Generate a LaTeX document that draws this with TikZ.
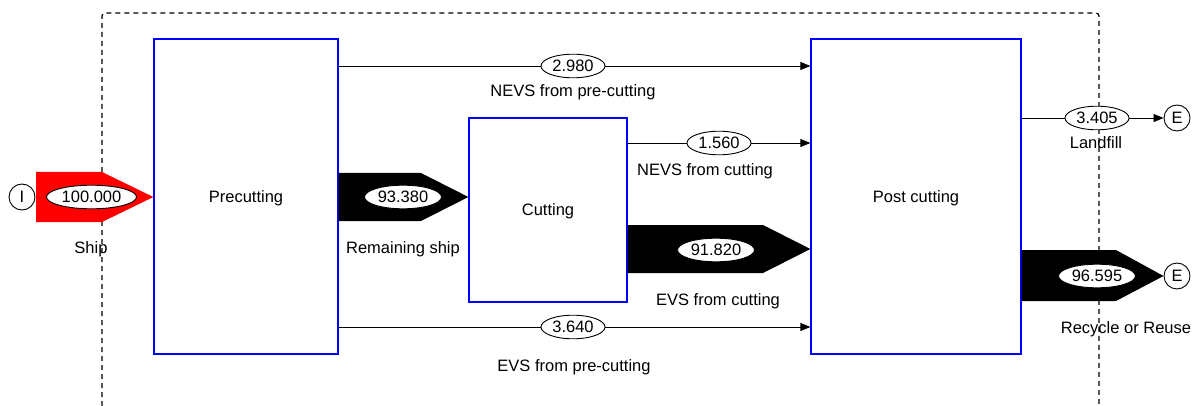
\documentclass[tikz,border=0pt]{standalone}
\usepackage{fontspec}
\setmainfont{Liberation Sans}
\usetikzlibrary{shapes.geometric,arrows.meta}
\tikzset{
  txt/.style={font=\fontsize{16.5}{19}\selectfont},
  box/.style={draw=blue, line width=1.2pt, fill=white, txt, inner sep=0pt, text depth=0pt},
  val/.style={ellipse, draw, fill=white, line width=0.9pt, txt, inner xsep=2pt, inner ysep=2.5pt},
  term/.style={circle, draw, line width=0.9pt, minimum size=26pt, inner sep=0pt, txt},
  lbl/.style={txt, inner sep=0pt},
  flow/.style={-{Triangle[length=10pt,width=8pt]}, line width=0.8pt},
  fat/.style={fill=black},
}
\begin{document}
\begin{tikzpicture}[x=1pt,y=-1pt]
\useasboundingbox (0,0) rectangle (1196,406);
% system boundary
\draw[line width=1.2pt, dash pattern=on 5pt off 4pt, rounded corners=3pt] (102,406) -- (102,13) -- (1099,13) -- (1099,406);
% process boxes
\node[box, minimum width=184pt, minimum height=315pt] (pre) at (246,196.5) {Precutting};
\node[box, minimum width=158pt, minimum height=184pt] (cut) at (548,210) {Cutting};
\node[box, minimum width=210pt, minimum height=315pt] (post) at (916,196.5) {Post cutting};
% terminals
\node[term] (I) at (22,197) {I};
\node[term] (E1) at (1177,118) {E};
\node[term] (E2) at (1177,276) {E};
% Ship (input)
\fill[red] (36,172) -- (102,172) -- (pre.west |- 0,197) -- (102,222) -- (36,222) -- cycle;
\node[val] (v1) at (91.5,197) {100.000};
\node[lbl] (l1) at (91,249) {Ship};
% Remaining ship
\fill[fat] (pre.east |- 0,173) -- (421,173) -- (cut.west |- 0,197) -- (421,221) -- (pre.east |- 0,221) -- cycle;
\node[val] (v2) at (403,197) {93.380};
\node[lbl] (l2) at (403,249) {Remaining ship};
% NEVS from pre-cutting
\draw[flow] (pre.east |- 0,66) -- (post.west |- 0,66);
\node[val] (v3) at (573,66) {2.980};
\node[lbl] (l3) at (573,92) {NEVS from pre-cutting};
% NEVS from cutting
\draw[flow] (cut.east |- 0,143) -- (post.west |- 0,143);
\node[val] (v4) at (719,143) {1.560};
\node[lbl] (l4) at (705,171) {NEVS from cutting};
% EVS from cutting
\fill[fat] (cut.east |- 0,225) -- (763,225) -- (post.west |- 0,249) -- (763,273) -- (cut.east |- 0,273) -- cycle;
\node[val] (v5) at (716,250) {91.820};
\node[lbl] (l5) at (718,301) {EVS from cutting};
% EVS from pre-cutting
\draw[flow] (pre.east |- 0,327) -- (post.west |- 0,327);
\node[val] (v6) at (573,327) {3.640};
\node[lbl] (l6) at (574,367) {EVS from pre-cutting};
% Landfill
\draw[flow] (post.east |- 0,118) -- (E1);
\node[val] (v7) at (1097,118) {3.405};
\node[lbl] (l7) at (1096,143) {Landfill};
% Recycle or Reuse
\fill[fat] (post.east |- 0,250) -- (1116,250) -- (E2.west) -- (1116,301) -- (post.east |- 0,301) -- cycle;
\node[val] (v8) at (1097,276) {96.595};
\node[lbl] (l8) at (1126,329) {Recycle or Reuse};
\end{tikzpicture}
\end{document}
